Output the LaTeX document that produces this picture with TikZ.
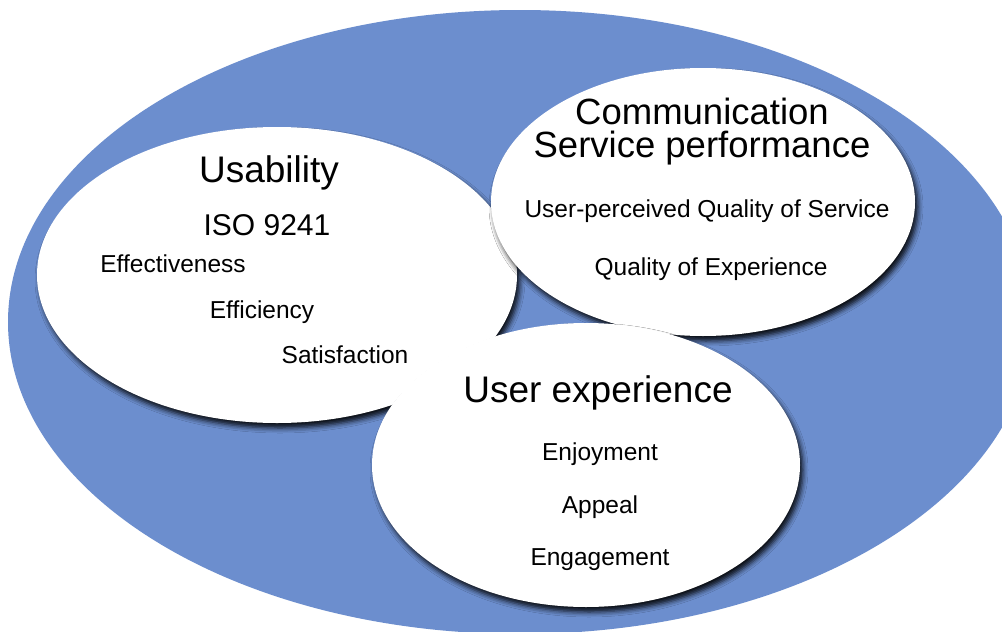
\documentclass[tikz,border=0pt]{standalone}
\usepackage{fontspec}
\setmainfont{Liberation Sans}
\usetikzlibrary{shapes.geometric,shadows.blur}
\definecolor{bigblue}{RGB}{108,142,206}
\tikzset{
  bubble/.style={ellipse, inner sep=0pt, fill=white,
    blur shadow={shadow xshift=3pt, shadow yshift=-5pt, shadow blur radius=5pt, shadow opacity=90}},
  head/.style={anchor=base, font=\fontsize{37}{32}\selectfont},
  iso/.style={anchor=base, font=\fontsize{30}{34}\selectfont},
  item/.style={anchor=base, font=\fontsize{24.5}{28}\selectfont},
}
\begin{document}
\begin{tikzpicture}[x=1pt,y=-1pt]
\useasboundingbox (0,0) rectangle (1002,632);
\clip (0,0) rectangle (1002,632);
\fill[white] (0,0) rectangle (1002,632);
\node[ellipse, fill=bigblue, inner sep=0pt, minimum width=1024pt, minimum height=624pt] (outer) at (520,322) {};
\node[bubble, minimum width=480pt, minimum height=296pt] (usab) at (277,275) {};
\node[bubble, minimum width=424pt, minimum height=268pt] (comm) at (703,202) {};
\node[bubble, minimum width=428pt, minimum height=284pt] (ux) at (586,465) {};
% Usability texts
\node[head] (t1) at (269,182) {Usability};
\node[iso] (t2) at (267,235) {ISO 9241};
\node[item] (t3) at (173,272) {Effectiveness};
\node[item] (t4) at (262,318) {Efficiency};
\node[item] (t5) at (345,363) {Satisfaction};
% Communication texts
\node[head, align=center, font=\fontsize{36.5}{32.5}\selectfont] (c1) at (702,157) {Communication\\Service performance};
\node[item] (c3) at (707,217) {User-perceived Quality of Service};
\node[item] (c4) at (711,275) {Quality of Experience};
% UX texts
\node[head] (u1) at (598,402) {User experience};
\node[item] (u2) at (600,460) {Enjoyment};
\node[item] (u3) at (600,513) {Appeal};
\node[item] (u4) at (600,565) {Engagement};
\end{tikzpicture}
\end{document}
